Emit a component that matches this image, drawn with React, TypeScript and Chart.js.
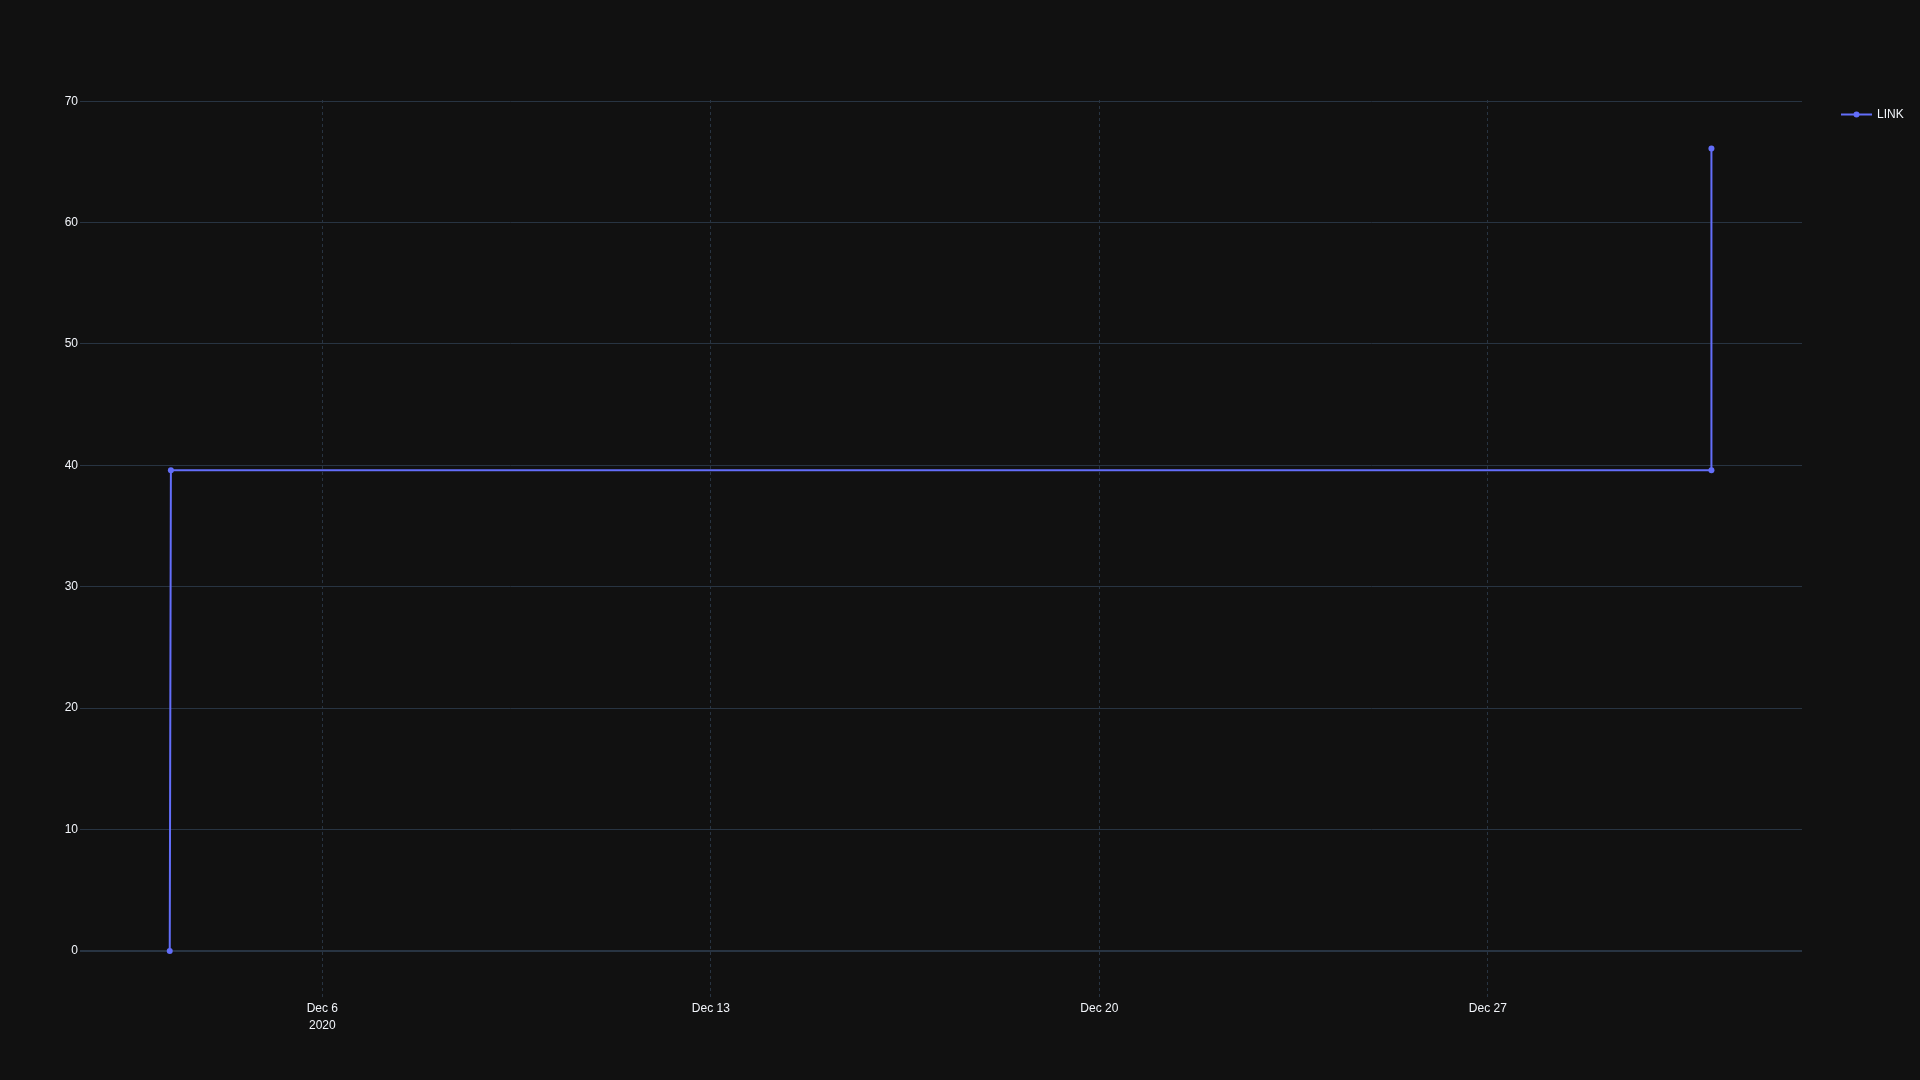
import React, { useEffect, useRef } from "react";
import { Chart, registerables } from "chart.js";

Chart.register(...registerables);

// ---- data ----
const seriesName = "LINK";
const pointTimes = ["2020-12-03T06:00", "2020-12-03T06:30", "2020-12-31T00:40", "2020-12-31T00:40"];
const pointValues = [0, 39.6, 39.6, 66.1];
const xTickDates = ["2020-12-06T00:00", "2020-12-13T00:00", "2020-12-20T00:00", "2020-12-27T00:00"];
const xTickLabels: (string | string[])[] = [["Dec 6", "2020"], "Dec 13", "Dec 20", "Dec 27"];
const xRange = ["2020-12-01T15:12", "2021-01-01T15:50"];
const yRange = [-4.04, 70.1];
const yTicks = [0, 10, 20, 30, 40, 50, 60, 70];

function toMs(s: string): number {
  const [d, t] = s.split("T");
  const [y, m, day] = d.split("-").map(Number);
  const [hh, mm] = t.split(":").map(Number);
  return Date.UTC(y, m - 1, day, hh, mm);
}

const FONT = "'Liberation Sans', Arial, sans-serif";
const LINE = "#636efa";
const GRID = "#283442";
const TEXT = "#f2f5fa";

export default function App() {
  const ref = useRef<HTMLCanvasElement | null>(null);

  useEffect(() => {
    document.body.style.margin = "0";
    document.body.style.background = "#111111";
    const tickVals = xTickDates.map(toMs);
    const legendPlugin = {
      id: "customLegend",
      afterDraw(chart: any) {
        const ctx = chart.ctx;
        ctx.save();
        const y = 114.5;
        ctx.strokeStyle = LINE;
        ctx.lineWidth = 2;
        ctx.beginPath();
        ctx.moveTo(1841, y);
        ctx.lineTo(1872, y);
        ctx.stroke();
        ctx.fillStyle = LINE;
        ctx.beginPath();
        ctx.arc(1856.5, y, 3, 0, Math.PI * 2);
        ctx.fill();
        ctx.fillStyle = TEXT;
        ctx.font = `12px ${FONT}`;
        ctx.textAlign = "left";
        ctx.textBaseline = "middle";
        ctx.fillText(seriesName, 1877, y + 0.5);
        ctx.restore();
      },
    };
    const chart = new Chart(ref.current as HTMLCanvasElement, {
      type: "line",
      data: {
        datasets: [
          {
            label: seriesName,
            data: pointTimes.map((t, i) => ({ x: toMs(t), y: pointValues[i] })),
            borderColor: LINE,
            backgroundColor: LINE,
            borderWidth: 2,
            pointRadius: 3,
            pointHoverRadius: 3,
            pointBorderWidth: 0,
            tension: 0,
          },
        ],
      },
      options: {
        animation: false,
        responsive: false,
        maintainAspectRatio: false,
        layout: { padding: { left: 0, right: 118, top: 100, bottom: 0 } },
        plugins: { legend: { display: false }, tooltip: { enabled: false } },
        scales: {
          x: {
            type: "linear",
            min: toMs(xRange[0]),
            max: toMs(xRange[1]),
            afterBuildTicks: (scale: any) => {
              scale.ticks = tickVals.map((v) => ({ value: v }));
            },
            afterFit: (scale: any) => {
              scale.height = 80;
            },
            grid: {
              color: GRID,
              lineWidth: 1,
              drawTicks: false,
              tickLength: 0,
            },
            border: { display: false, dash: [3, 3] },
            ticks: {
              autoSkip: false,
              maxRotation: 0,
              padding: 0,
              color: TEXT,
              font: { family: FONT, size: 12, lineHeight: 1.4 },
              callback: (v: any) => {
                const i = tickVals.indexOf(Number(v));
                return i >= 0 ? xTickLabels[i] : "";
              },
            },
          },
          y: {
            type: "linear",
            min: yRange[0],
            max: yRange[1],
            afterBuildTicks: (scale: any) => {
              scale.ticks = yTicks.map((v) => ({ value: v }));
            },
            afterFit: (scale: any) => {
              scale.width = 80;
            },
            grid: {
              color: GRID,
              lineWidth: (c: any) => (c.tick && c.tick.value === 0 ? 2 : 1),
              drawTicks: false,
              tickLength: 0,
            },
            border: { display: false },
            ticks: {
              padding: 2,
              color: TEXT,
              font: { family: FONT, size: 12 },
              callback: (v: any) => String(v),
            },
          },
        },
      },
      plugins: [legendPlugin],
    } as any);
    return () => chart.destroy();
  }, []);

  return (
    <div style={{ position: "fixed", left: 0, top: 0, width: 1920, height: 1080, background: "#111111" }}>
      <canvas ref={ref} width={1920} height={1080} style={{ display: "block" }} />
    </div>
  );
}
